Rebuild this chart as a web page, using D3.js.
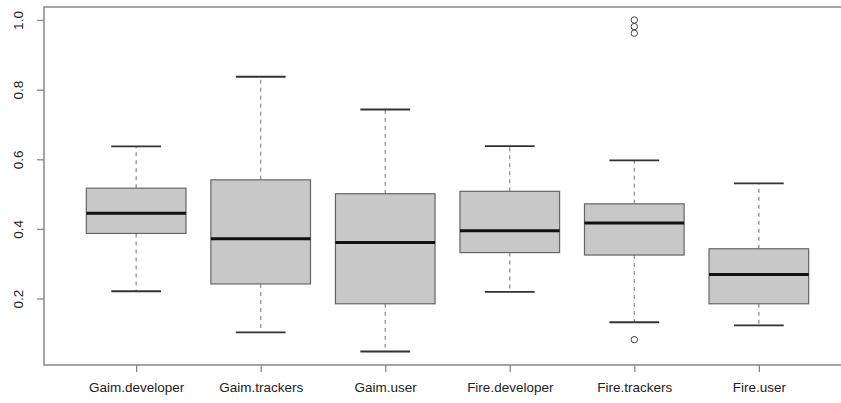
<!DOCTYPE html>
<html><head><meta charset="utf-8">
<script src="https://cdn.jsdelivr.net/npm/d3@7"></script>
<style>body{margin:0;background:#fff}svg{display:block}text{font-family:"Liberation Sans",Arial,sans-serif;fill:#222}</style>
</head><body>
<svg id="c" width="841" height="403"></svg>
<script>
const categories = ["Gaim.developer","Gaim.trackers","Gaim.user","Fire.developer","Fire.trackers","Fire.user"];
const lowerWhisker = [0.221, 0.103, 0.048, 0.219, 0.132, 0.123];
const q1 = [0.387, 0.242, 0.185, 0.332, 0.325, 0.185];
const median = [0.445, 0.372, 0.361, 0.395, 0.417, 0.269];
const q3 = [0.517, 0.541, 0.501, 0.508, 0.472, 0.343];
const upperWhisker = [0.637, 0.837, 0.743, 0.638, 0.597, 0.531];
const outliers = [[], [], [], [], [0.082, 0.962, 0.981, 1.0], []];
const yTicks = [0.2, 0.4, 0.6, 0.8, 1.0];

const svg = d3.select("#c");
const pLeft = 44, pRight = 851, pTop = 7, pBottom = 365;
const x = d3.scaleLinear().domain([0.26, 6.74]).range([pLeft, pRight]);
const y = d3.scaleLinear().domain([0.0092, 1.0373]).range([pBottom, pTop]);
const unit = x(2) - x(1);
const bw = 0.8 * unit, sw = 0.4 * unit;

categories.forEach((c, i) => {
  const cx = x(i + 1);
  const g = svg.append("g");
  g.append("line").attr("x1", cx).attr("x2", cx).attr("y1", y(q3[i])).attr("y2", y(upperWhisker[i]))
    .attr("stroke", "#888").attr("stroke-width", 1.2).attr("stroke-dasharray", "4,4");
  g.append("line").attr("x1", cx).attr("x2", cx).attr("y1", y(q1[i])).attr("y2", y(lowerWhisker[i]))
    .attr("stroke", "#888").attr("stroke-width", 1.2).attr("stroke-dasharray", "4,4");
  [upperWhisker[i], lowerWhisker[i]].forEach(v => {
    g.append("line").attr("x1", cx - sw / 2).attr("x2", cx + sw / 2).attr("y1", y(v)).attr("y2", y(v))
      .attr("stroke", "#333").attr("stroke-width", 1.8);
  });
  g.append("rect").attr("x", cx - bw / 2).attr("width", bw)
    .attr("y", y(q3[i])).attr("height", y(q1[i]) - y(q3[i]))
    .attr("fill", "#c8c8c8").attr("stroke", "#666").attr("stroke-width", 1.2);
  g.append("line").attr("x1", cx - bw / 2).attr("x2", cx + bw / 2).attr("y1", y(median[i])).attr("y2", y(median[i]))
    .attr("stroke", "#111").attr("stroke-width", 3);
  outliers[i].forEach(v => {
    g.append("circle").attr("cx", cx).attr("cy", y(v)).attr("r", 3.2)
      .attr("fill", "none").attr("stroke", "#444").attr("stroke-width", 1);
  });
});

svg.append("rect").attr("x", pLeft).attr("y", pTop).attr("width", pRight - pLeft).attr("height", pBottom - pTop)
  .attr("fill", "none").attr("stroke", "#888").attr("stroke-width", 1.5);

const yAxis = d3.axisLeft(y).tickValues(yTicks).tickFormat(d3.format(".1f")).tickSize(7);
const ya = svg.append("g").attr("transform", `translate(${pLeft},0)`).call(yAxis);
ya.select(".domain").remove();
ya.selectAll(".tick line").attr("stroke", "#888").attr("stroke-width", 1.3);
ya.selectAll(".tick text").attr("font-size", 13.5).attr("fill", "#222")
  .attr("transform", "rotate(-90)").attr("text-anchor", "middle").attr("x", 0).attr("y", -25).attr("dy", "0.32em");

const xAxis = d3.axisBottom(x).tickValues(categories.map((c, i) => i + 1)).tickFormat(d => categories[d - 1]).tickSize(7).tickPadding(10);
const xa = svg.append("g").attr("transform", `translate(0,${pBottom})`).call(xAxis);
xa.select(".domain").remove();
xa.selectAll(".tick line").attr("stroke", "#888").attr("stroke-width", 1.3);
xa.selectAll(".tick text").attr("font-size", 13.5).attr("fill", "#222");
</script>
</body></html>
